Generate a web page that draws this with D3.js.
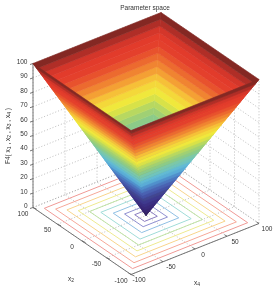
<!DOCTYPE html>
<html><head><meta charset="utf-8">
<script src="https://cdnjs.cloudflare.com/ajax/libs/d3/7.8.5/d3.min.js"></script>
<style>html,body{margin:0;padding:0;background:#fff}svg{display:block;filter:blur(0.35px)}text{font-family:"Liberation Sans",Arial,sans-serif;fill:#333}</style>
</head><body><svg id="c" width="277" height="289"></svg>
<script>
const title = "Parameter space";
const zTicks = [0,10,20,30,40,50,60,70,80,90,100];
const x2Ticks = [100,50,0,-50,-100];
const x4Ticks = [-100,-50,0,50,100];
const gridTicks = [-100,-50,0,50,100];
const bandEdges = [0,3.3,6.7,10,13.3,16.7,20,23.3,26.7,30,33.3,36.7,40,43.3,46.7,50,53.3,56.7,60,63.3,66.7,70,73.3,76.7,80,83.3,86.7,90,93.3,96.7,100];
const bandColors = ["#33215f","#372572","#3a2a7a","#3c3084","#3f3a8e","#42468f","#4552a4","#4a62b2","#4d78bf","#5090cc","#5aacd6","#62bad4","#70c4bc","#7cc8a8","#8ccb88","#a0d074","#b8d860","#d8e248","#f0e83c","#f4d83a","#f6c038","#f4a034","#f08431","#ec6a2f","#e8522d","#e4402c","#e23b2b","#d4362a","#b02e27","#842823"];
const contourLevels = [10,19,29,40,50,60,70,80,90];
const contourColors = ["#8a7cc0","#8f8fd0","#90c0e4","#a0dcd8","#c0e4a4","#eeea90","#f8d48c","#f6a898","#f09a96"];

const svg = d3.select("#c");
const sx4x = d3.scaleLinear().domain([-100,100]).range([-64,64]);
const sx4y = d3.scaleLinear().domain([-100,100]).range([25.5,-25.5]);
const sx2x = d3.scaleLinear().domain([-100,100]).range([49,-49]);
const sx2y = d3.scaleLinear().domain([-100,100]).range([33.5,-33.5]);
const sz = d3.scaleLinear().domain([0,100]).range([0,-144]);
const P = (x4,x2,z)=>[146+sx4x(x4)+sx2x(x2), 215.5+sx4y(x4)+sx2y(x2)+sz(z)];
const line = d3.line();

// grid
const grid = svg.append("g").attr("fill","none").attr("stroke","#a0a0a0").attr("stroke-width",0.7).attr("stroke-dasharray","1 2");
zTicks.forEach(z=>{
  grid.append("path").attr("d",line([P(-100,100,z),P(100,100,z),P(100,-100,z)]));
});
gridTicks.forEach(t=>{
  grid.append("path").attr("d",line([P(-100,t,0),P(100,t,0),P(100,t,100)]));
  grid.append("path").attr("d",line([P(t,-100,0),P(t,100,0),P(t,100,100)]));
});

// contours
contourLevels.forEach((L,i)=>{
  svg.append("path").attr("d",line([P(-L,-L,0),P(L,-L,0),P(L,L,0),P(-L,L,0),P(-L,-L,0)]))
    .attr("fill","none").attr("stroke",contourColors[i]).attr("stroke-width",1);
});

// axes
const ax = svg.append("g").attr("stroke","#666").attr("stroke-width",0.9).attr("fill","none");
ax.append("path").attr("d",line([P(-100,100,100),P(-100,100,0),P(-100,-100,0),P(100,-100,0)]));
zTicks.forEach(z=>{const p=P(-100,100,z);
  ax.append("path").attr("d",line([p,[p[0]-3,p[1]+1]]));
  svg.append("text").attr("x",p[0]-5.5).attr("y",p[1]+0.5).attr("text-anchor","end").attr("font-size",6.5).text(z);
});
x2Ticks.forEach(t=>{
  const a=P(-100,t,0);
  ax.append("path").attr("d",line([a,[a[0]+3.5,a[1]+1.5]]));
  svg.append("text").attr("x",a[0]-10).attr("y",a[1]+8).attr("text-anchor","middle").attr("font-size",6.5).text(t);
});
x4Ticks.forEach(t=>{
  const b=P(t,-100,0);
  ax.append("path").attr("d",line([b,[b[0]-2.5,b[1]-1.5]]));
  svg.append("text").attr("x",b[0]+8).attr("y",b[1]+7.5).attr("text-anchor","middle").attr("font-size",6.5).text(t);
});

// surface: back walls, then front walls
const wall = (f,i)=>{
  const a=bandEdges[i], b=bandEdges[i+1];
  svg.append("path").attr("d",line(f(a,b))+"Z").attr("fill",bandColors[i]).attr("stroke",bandColors[i]).attr("stroke-width",0.6);
};
const walls = [
  (a,b)=>[P(-a,a,a),P(a,a,a),P(b,b,b),P(-b,b,b)],
  (a,b)=>[P(a,a,a),P(a,-a,a),P(b,-b,b),P(b,b,b)],
  (a,b)=>[P(-a,a,a),P(-a,-a,a),P(-b,-b,b),P(-b,b,b)],
  (a,b)=>[P(-a,-a,a),P(a,-a,a),P(b,-b,b),P(-b,-b,b)]
];
walls.forEach(f=>bandColors.forEach((c,i)=>wall(f,i)));

// labels
svg.append("text").attr("x",145).attr("y",9.5).attr("text-anchor","middle").attr("font-size",6.5).text(title);
const lab=(x,y,rot,sub)=>{
  const t=svg.append("text").attr("transform",`translate(${x},${y}) rotate(${rot})`).attr("text-anchor","middle").attr("font-size",6.5);
  sub.forEach(([s,isSub])=>{t.append("tspan").attr("baseline-shift",isSub?"-20%":null).attr("font-size",isSub?5:6.5).text(s);});
};
lab(9.5,136,-90,[["F4( x",0],["1",1],[" , x",0],["2",1],[" , x",0],["3",1],[" , x",0],["4",1],[" )",0]]);
lab(71,281,0,[["x",0],["2",1]]);
lab(197,285,0,[["x",0],["4",1]]);
</script></body></html>
